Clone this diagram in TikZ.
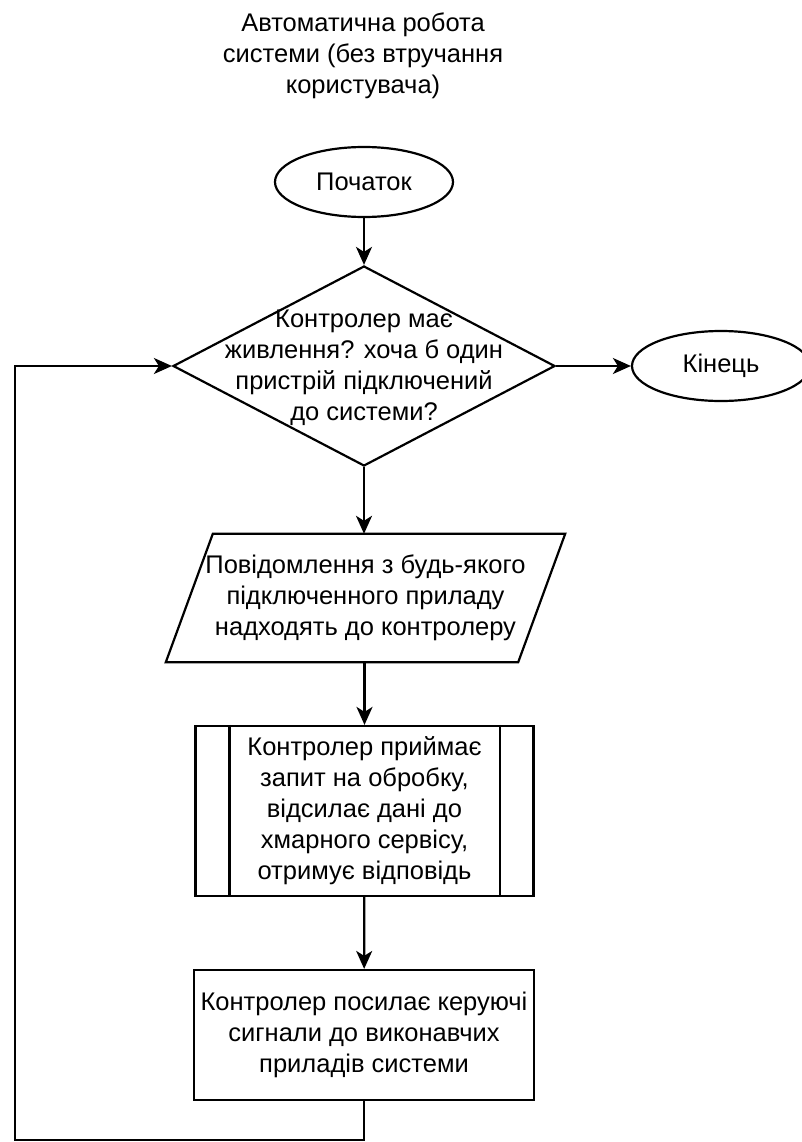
\documentclass[tikz,border=0pt]{standalone}
\usepackage{fontspec}
\setmainfont{Liberation Sans}
\usetikzlibrary{shapes.geometric,arrows.meta}

\begin{document}
\begin{tikzpicture}[x=1pt,y=-1pt,
  every node/.style={font=\fontsize{25.5}{31}\selectfont, align=center, text=black},
  shapeline/.style={draw=black, line width=2.2pt, line join=miter},
  terminal/.style={shapeline, ellipse, minimum width=178pt, minimum height=70pt, inner sep=0pt},
  decision/.style={shapeline, diamond, minimum width=382pt, minimum height=200pt, inner sep=0pt},
  iobox/.style={draw=none, rectangle, minimum width=399pt, minimum height=128pt, inner sep=0pt},
  subbox/.style={shapeline, rectangle, minimum width=338pt, minimum height=170pt, inner sep=0pt},
  procbox/.style={shapeline, rectangle, minimum width=340pt, minimum height=130pt, inner sep=0pt},
  flow/.style={draw=black, line width=2.2pt, -{Stealth[length=18pt,width=16pt,inset=5pt]}},
]
\useasboundingbox (0,0) rectangle (801,1142);

% heading
\node (title) at (363,56) {Автоматична робота\\системи (без втручання\\користувача)};

% flowchart nodes
\node[terminal] (start) at (364,182) {Початок};
\node[decision] (dec) at (364,366) {};
\node (decText) at (364,368) {Контролер має\\живлення? хоча б один\\пристрій підключений\\до системи?};
\node[terminal] (stop) at (721,366) {Кінець};

\node[iobox] (io) at (365.5,598) {Повідомлення з будь-якого\\підключенного приладу\\надходять до контролеру};
\draw[shapeline] ([xshift=47pt]io.north west) -- (io.north east)
  -- ([xshift=-47pt]io.south east) -- (io.south west) -- cycle;

\node[subbox] (sub) at (364.5,811) {Контролер приймає\\запит на обробку,\\відсилає дані до\\хмарного сервісу,\\отримує відповідь};
\draw[shapeline] ([xshift=35pt]sub.north west) -- ([xshift=35pt]sub.south west);
\draw[shapeline] ([xshift=-35pt]sub.north east) -- ([xshift=-35pt]sub.south east);

\node[procbox] (act) at (364,1035) {Контролер посилає керуючі\\сигнали до виконавчих\\приладів системи};

% connectors
\coordinate (loopCorner) at (15,1140);
\draw[flow] (start) -- (dec);
\draw[flow] (dec) -- (stop);
\draw[flow] (dec.south) -- (dec.south |- io.north);
\draw[flow] (io.south -| sub.north) -- (sub.north);
\draw[flow] (sub) -- (act);
\draw[flow] (act.south) |- (loopCorner) |- (dec.west);
\end{tikzpicture}
\end{document}
